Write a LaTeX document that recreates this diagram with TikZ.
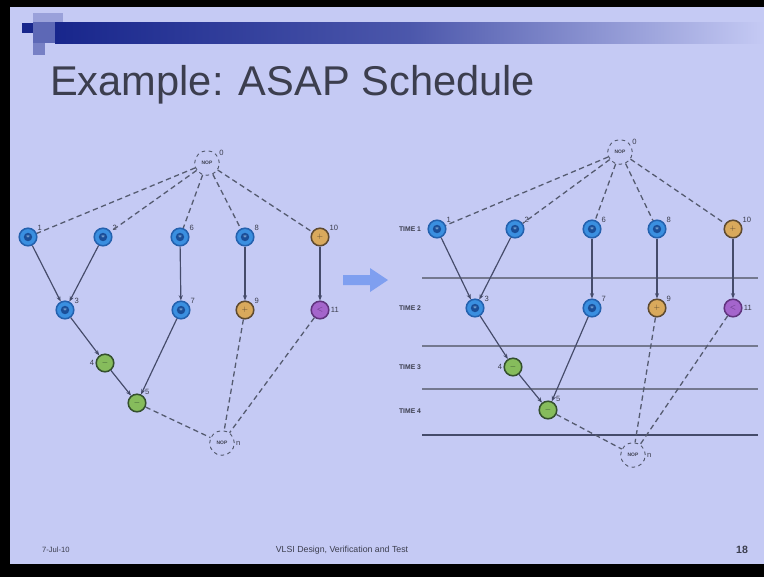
\documentclass[tikz,border=0pt]{standalone}
\usepackage{fontspec}
\setmainfont{Liberation Sans}
\usepackage{xcolor}
\usetikzlibrary{arrows.meta}
\definecolor{slidebg}{HTML}{C5CAF4}
\definecolor{barblue}{HTML}{18268C}
\definecolor{mulblue}{HTML}{3A8FE0}
\definecolor{mulring}{HTML}{1A4E98}
\definecolor{addorange}{HTML}{D9A95C}
\definecolor{addring}{HTML}{5E4A30}
\definecolor{subgreen}{HTML}{86BC5C}
\definecolor{subring}{HTML}{34502E}
\definecolor{cmppurple}{HTML}{A465CC}
\definecolor{cmpring}{HTML}{60347E}
\definecolor{edgegray}{HTML}{454B6A}
\definecolor{dashgray}{HTML}{555B70}
\definecolor{titlegray}{HTML}{3C3E4E}
\definecolor{bigarrow}{HTML}{7F9FF0}
\begin{document}
\begin{tikzpicture}[x=0.03cm,y=-0.03cm,
    op/.style={circle,minimum size=15pt,inner sep=0pt,line width=1.3pt,font=\fontsize{6.5}{7}\selectfont\bfseries},
    mul/.style={op,fill=mulblue,draw=mulring!70!mulblue,text=mulblue!40!white,
      path picture={\fill[mulring] (path picture bounding box.center) circle (3.6pt);}},
    add/.style={op,fill=addorange,draw=addring,text=addring},
    sub/.style={op,fill=subgreen,draw=subring,text=subring},
    cmp/.style={op,fill=cmppurple,draw=cmpring,text=cmpring},
    nop/.style={circle,draw=dashgray,dashed,line width=0.8pt,minimum size=21pt,inner sep=0pt,font=\fontsize{4.2}{5}\selectfont\bfseries,text=titlegray},
    lbl/.style={font=\fontsize{6.5}{7}\selectfont,text=titlegray,inner sep=1pt},
    timelbl/.style={font=\fontsize{5.8}{6}\selectfont\bfseries,text=titlegray},
    dep/.style={draw=edgegray,line width=1pt,-{Stealth[length=4.5pt,width=3.5pt]}},
    res/.style={draw=dashgray,line width=1.1pt,dash pattern=on 4.5pt off 3pt},
    stepline/.style={draw=edgegray!75,line width=0.9pt}]
        \fill[black] (0,0) rectangle (764,577);
        \fill[slidebg] (10,7) rectangle (764,564);
        \useasboundingbox (0,0) rectangle (764,577);
        \shade[left color=barblue,right color=slidebg,middle color=barblue!70!slidebg] (55,22) rectangle (764,43);
        \fill[barblue!60!slidebg] (33,22) rectangle (55,43);
        \fill[barblue] (22,23) rectangle (33,33);
        \fill[barblue!25!slidebg] (33,13) rectangle (63,22);
        \fill[barblue!45!slidebg] (33,43) rectangle (45,55);
        \node[anchor=base west,inner sep=0pt,text=titlegray,font=\fontsize{35.5}{40}\selectfont] (title) at (50,95) {Example: ASAP Schedule};
        \node[nop,label={[lbl]30:0}] (a0) at (207,163) {NOP};
        \node[mul,label={[lbl]30:1}] (a1) at (28,237) {$\ast$};
        \node[mul,label={[lbl]30:2}] (a2) at (103,237) {$\ast$};
        \node[mul,label={[lbl]30:6}] (a6) at (180,237) {$\ast$};
        \node[mul,label={[lbl]30:8}] (a8) at (245,237) {$\ast$};
        \node[add,label={[lbl]30:10}] (a10) at (320,237) {$+$};
        \node[mul,label={[lbl]30:3}] (a3) at (65,310) {$\ast$};
        \node[mul,label={[lbl]30:7}] (a7) at (181,310) {$\ast$};
        \node[add,label={[lbl]30:9}] (a9) at (245,310) {$+$};
        \node[cmp,label={[lbl]0:11}] (a11) at (320,310) {$<$};
        \node[sub,label={[lbl]180:4}] (a4) at (105,363) {$-$};
        \node[sub,label={[lbl]45:5}] (a5) at (137,403) {$-$};
        \node[nop,label={[lbl]0:n}] (an) at (222,443) {NOP};
        \draw[res] (a0) -- (a1);
        \draw[res] (a0) -- (a2);
        \draw[res] (a0) -- (a6);
        \draw[res] (a0) -- (a8);
        \draw[res] (a0) -- (a10);
        \draw[dep] (a1) -- (a3);
        \draw[dep] (a2) -- (a3);
        \draw[dep] (a3) -- (a4);
        \draw[dep] (a4) -- (a5);
        \draw[dep] (a6) -- (a7);
        \draw[dep] (a7) -- (a5);
        \draw[dep] (a8) -- (a9);
        \draw[dep] (a10) -- (a11);
        \draw[res] (a5) -- (an);
        \draw[res] (a9) -- (an);
        \draw[res] (a11) -- (an);
        \fill[bigarrow] (343,275) -- (370,275) -- (370,268) -- (388,280) -- (370,292) -- (370,285) -- (343,285) -- cycle;
        \coordinate (l1w) at (422,278);
        \coordinate (l1e) at (758,278);
        \coordinate (l2w) at (422,346);
        \coordinate (l2e) at (758,346);
        \coordinate (l3w) at (422,389);
        \coordinate (l3e) at (758,389);
        \coordinate (l4w) at (422,435);
        \coordinate (l4e) at (758,435);
        \draw[stepline] (l1w) -- (l1e);
        \draw[stepline] (l2w) -- (l2e);
        \draw[stepline] (l3w) -- (l3e);
        \draw[stepline,draw=edgegray,line width=1.1pt] (l4w) -- (l4e);
        \node[timelbl] (t1) at (410,229) {TIME 1};
        \node[timelbl] (t2) at (410,308) {TIME 2};
        \node[timelbl] (t3) at (410,367) {TIME 3};
        \node[timelbl] (t4) at (410,411) {TIME 4};
        \node[nop,label={[lbl]30:0}] (b0) at (620,152) {NOP};
        \node[mul,label={[lbl]30:1}] (b1) at (437,229) {$\ast$};
        \node[mul,label={[lbl]30:2}] (b2) at (515,229) {$\ast$};
        \node[mul,label={[lbl]30:6}] (b6) at (592,229) {$\ast$};
        \node[mul,label={[lbl]30:8}] (b8) at (657,229) {$\ast$};
        \node[add,label={[lbl]30:10}] (b10) at (733,229) {$+$};
        \node[mul,label={[lbl]30:3}] (b3) at (475,308) {$\ast$};
        \node[mul,label={[lbl]30:7}] (b7) at (592,308) {$\ast$};
        \node[add,label={[lbl]30:9}] (b9) at (657,308) {$+$};
        \node[cmp,label={[lbl]0:11}] (b11) at (733,308) {$<$};
        \node[sub,label={[lbl]180:4}] (b4) at (513,367) {$-$};
        \node[sub,label={[lbl]45:5}] (b5) at (548,410) {$-$};
        \node[nop,label={[lbl]0:n}] (bn) at (633,455) {NOP};
        \draw[res] (b0) -- (b1);
        \draw[res] (b0) -- (b2);
        \draw[res] (b0) -- (b6);
        \draw[res] (b0) -- (b8);
        \draw[res] (b0) -- (b10);
        \draw[dep] (b1) -- (b3);
        \draw[dep] (b2) -- (b3);
        \draw[dep] (b3) -- (b4);
        \draw[dep] (b4) -- (b5);
        \draw[dep] (b6) -- (b7);
        \draw[dep] (b7) -- (b5);
        \draw[dep] (b8) -- (b9);
        \draw[dep] (b10) -- (b11);
        \draw[res] (b5) -- (bn);
        \draw[res] (b9) -- (bn);
        \draw[res] (b11) -- (bn);
        \node[anchor=west,text=titlegray,font=\fontsize{6.5}{7}\selectfont] (date) at (38,550) {7-Jul-10};
        \node[text=titlegray,font=\fontsize{7.5}{8}\selectfont] (course) at (342,550) {VLSI Design, Verification and Test};
        \node[text=titlegray,font=\fontsize{9}{10}\selectfont\bfseries] (page) at (742,550) {18};
    \end{tikzpicture}
\end{document}
